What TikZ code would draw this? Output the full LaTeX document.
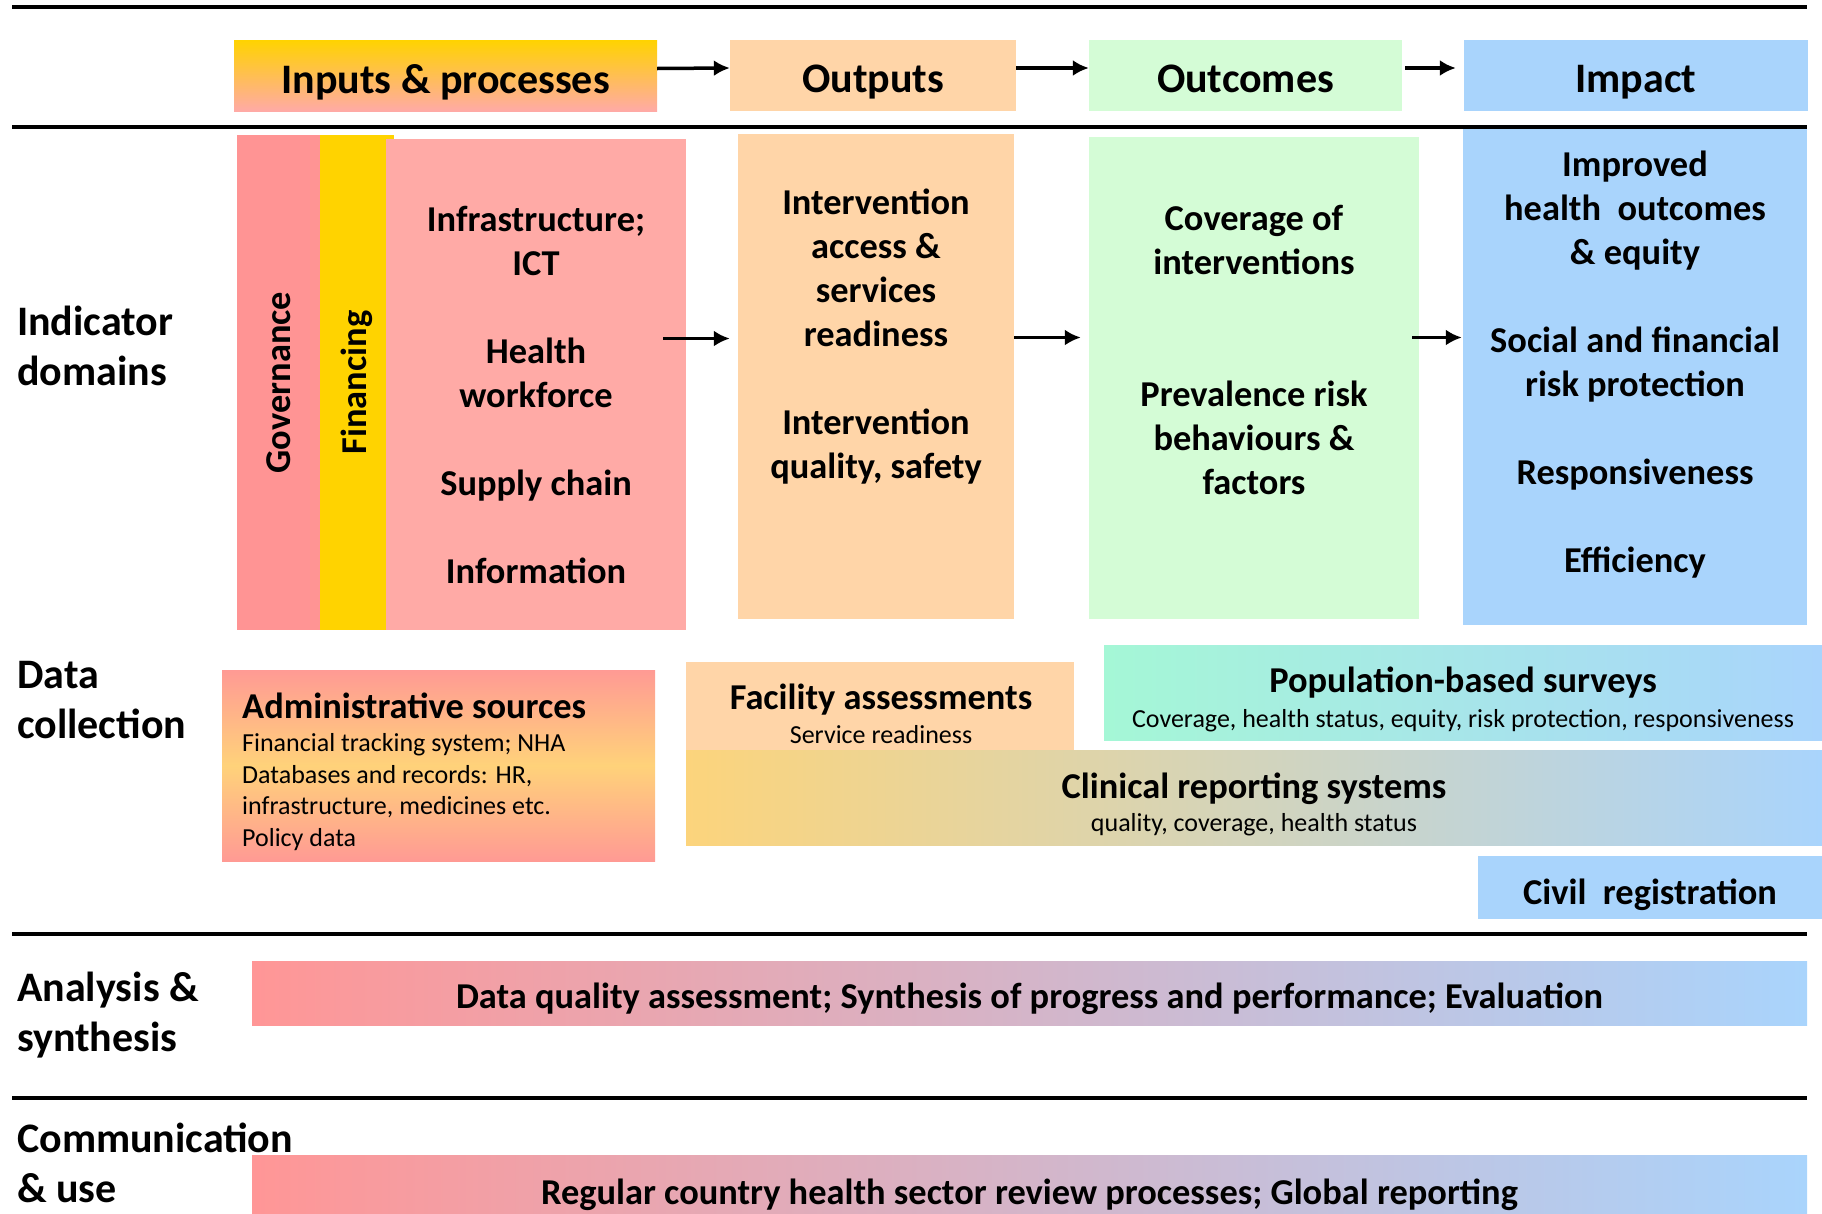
\documentclass[tikz,border=0pt]{standalone}
\usepackage{fontspec}
\setmainfont{Carlito}
\usetikzlibrary{arrows.meta, positioning}

\definecolor{govred}{HTML}{FF9494}
\definecolor{fingold}{HTML}{FFD300}
\definecolor{inpink}{HTML}{FFAAA6}
\definecolor{outpeach}{HTML}{FFD5A8}
\definecolor{ocgreen}{HTML}{D4FCD6}
\definecolor{impblue}{HTML}{A9D4FC}
\definecolor{admpink}{HTML}{FF9A94}
\definecolor{admyellow}{HTML}{FFD27A}
\definecolor{clinyellow}{HTML}{FCD47C}
\definecolor{popmint}{HTML}{A5F7D6}
\definecolor{barpink}{HTML}{FF9696}

\newcommand\hdfont{\fontsize{42}{50}\selectfont\bfseries}
\newcommand\bxfont{\fontsize{36.4}{44}\selectfont\bfseries}
\newcommand\smfont{\fontsize{26}{31.5}\selectfont\mdseries}

\begin{document}
\begin{tikzpicture}[x=1pt, y=-1pt, font=\bxfont]
	\useasboundingbox (0,0) rectangle (1822,1213);
	% Setup the styles for the boxes
	\tikzset{box/.style={rectangle, inner sep=0pt},
	         head/.style={box, minimum height=71pt},
	         side/.style={anchor=west, inner sep=0pt, align=left, font=\hdfont},
	         txt/.style={inner sep=0pt, align=center},
	         htxt/.style={txt, font=\hdfont, text depth=8pt},
	         arr/.style={->, >={Latex[length=16pt,width=16pt]}, line width=3.5pt},
	         rule/.style={line width=4pt}}
	% Draw the header boxes
	\node[head, minimum width=423pt, top color=fingold, bottom color=inpink] at (445.5,75.5) (hin) {};
	\node[head, minimum width=286pt, fill=outpeach] at (873,75) (hout) {};
	\node[head, minimum width=313pt, fill=ocgreen] at (1245.5,75) (hoc) {};
	\node[head, minimum width=344pt, fill=impblue] at (1636,75) (himp) {};
	\node[htxt] at (445.5,82.5) (hintxt) {Inputs \& processes};
	\node[htxt] at (873,82.5) (houttxt) {Outputs};
	\node[htxt] at (1245.5,82.5) (hoctxt) {Outcomes};
	\node[htxt] at (1636,82.5) (himptxt) {Impact};
	% Draw the indicator domains
	\node[box, minimum width=83pt, minimum height=495pt, fill=govred] at (278.5,382.5) (gov) {\rotatebox{90}{Governance}};
	\node[box, minimum width=74pt, minimum height=495pt, fill=fingold] at (357,382.5) (fin) {\rotatebox{90}{Financing}};
	\node[box, minimum width=300pt, minimum height=491pt, fill=inpink] at (536,384.5) (inbox) {};
	\node[box, minimum width=276pt, minimum height=485pt, fill=outpeach] at (876,376.5) (outbox) {};
	\node[box, minimum width=330pt, minimum height=482pt, fill=ocgreen] at (1254,378) (ocbox) {};
	\node[box, minimum width=344pt, minimum height=497pt, fill=impblue] at (1635,376.5) (impbox) {};
	\node[txt] at (536,395) (intxt) {Infrastructure;\\ICT\\[44pt]Health\\workforce\\[44pt]Supply chain\\[44pt]Information};
	\node[txt] at (876,336.5) (outtxt) {Intervention\\access \&\\services\\readiness\\[44pt]Intervention\\quality, safety};
	\node[txt] at (1254,350) (octxt) {Coverage of\\interventions\\[88pt]Prevalence risk\\behaviours \&\\factors};
	\node[txt] at (1635,365) (imptxt) {Improved\\health\ \ outcomes\\\& equity\\[44pt]Social and financial\\risk protection\\[44pt]Responsiveness\\[44pt]Efficiency};
	% Draw the data sources
	\node[box, minimum width=433pt, minimum height=191pt, top color=admpink, bottom color=admpink, middle color=admyellow] at (438.5,765.5) (admin) {};
	\node[txt, anchor=west, align=left, font=\smfont] at (242,771.5) (admtxt) {{\bxfont Administrative sources}\\[2pt]Financial tracking system; NHA\\Databases and records: HR,\\infrastructure, medicines etc.\\Policy data};
	\node[box, minimum width=388pt, minimum height=88pt, fill=outpeach] at (880,706) (facil) {};
	\node[txt, font=\smfont] at (881,713.5) (faciltxt) {{\bxfont Facility assessments}\\[2.5pt]Service readiness};
	\node[box, minimum width=1136pt, minimum height=95pt, left color=clinyellow, right color=impblue] at (1254,797.5) (clin) {};
	\node[txt, font=\smfont] at (1254,804.5) (clintxt) {{\bxfont Clinical reporting systems}\\[2pt]quality, coverage, health status};
	\node[box, minimum width=718pt, minimum height=95pt, left color=popmint, right color=impblue] at (1463,692.5) (pop) {};
	\node[txt, font=\smfont] at (1463,699.5) (poptxt) {{\bxfont Population-based surveys}\\[3pt]Coverage, health status, equity, risk protection, responsiveness};
	\node[box, minimum width=344pt, minimum height=63pt, fill=impblue] at (1650,887.5) (civil) {};
	\node[txt] at (1650,894.5) (civiltxt) {Civil\ \ registration};
	% Draw the analysis and use bars
	\node[box, minimum width=1555pt, minimum height=64pt, left color=barpink, right color=impblue] at (1029.5,993) (anal) {};
	\node[txt] at (1029.5,999) (analtxt) {Data quality assessment; Synthesis of progress and performance; Evaluation};
	\node[box, minimum width=1555pt, minimum height=72pt, left color=barpink, right color=impblue] at (1029.5,1191) (comm) {};
	\node[txt] at (1029.5,1194.5) (commtxt) {Regular country health sector review processes; Global reporting};
	% Row labels
	\node[side] at (17,346) (lind) {Indicator\\domains};
	\node[side] at (17,700) (ldata) {Data\\collection};
	\node[side] at (17,1015) (lanal) {Analysis \&\\synthesis};
	\node[side] at (17,1163) (lcomm) {Communication\\\& use};
	% Rules between the rows
	\draw[rule] (12,7) -- (1807,7);
	\draw[rule] (12,127) -- (1807,127);
	\draw[rule] (12,934) -- (1807,934);
	\draw[rule] (12,1098) -- (1807,1098);
	% Connect the boxes with arrows
	\draw[arr] ([yshift=7pt]hin.east) -- ([yshift=7pt]hout.west);
	\draw[arr] ([yshift=7pt]hout.east) -- ([yshift=7pt]hoc.west);
	\draw[arr] ([xshift=3pt,yshift=7pt]hoc.east) -- ([xshift=-8pt,yshift=7pt]himp.west);
	\draw[arr] ([xshift=-23pt,yshift=46pt]inbox.east) -- ([xshift=-8pt,yshift=38pt]outbox.west);
	\draw[arr] ([yshift=39pt]outbox.east) -- ([xshift=-8pt,yshift=40.5pt]ocbox.west);
	\draw[arr] ([xshift=-7pt,yshift=40.5pt]ocbox.east) -- ([xshift=-1pt,yshift=39pt]impbox.west);
\end{tikzpicture}
\end{document}
